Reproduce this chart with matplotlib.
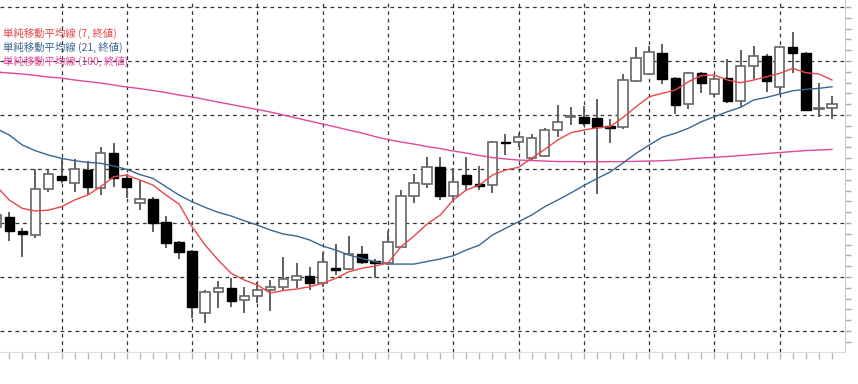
import matplotlib
matplotlib.use("Agg")
import matplotlib.pyplot as plt
import numpy as np

plt.rcParams['font.family'] = ['Noto Sans CJK JP', 'DejaVu Sans']

# daily candles, index -1 is the one cut off at the left edge
opens = [108.963, 109.053, 108.926, 108.886, 109.312, 109.438, 109.373, 109.491, 109.321, 109.645,
         109.414, 109.188, 109.219, 109.012, 108.821, 108.738, 108.164, 108.358, 108.401, 108.287,
         108.327, 108.380, 108.405, 108.472, 108.512, 108.442, 108.586, 108.571, 108.713, 108.651,
         108.627, 108.781, 109.250, 109.361, 109.516, 109.250, 109.444, 109.361, 109.352, 109.753,
         109.753, 109.599, 109.620, 109.861, 109.986, 109.986, 109.969, 109.898, 109.889, 110.315,
         110.380, 110.571, 110.340, 110.102, 110.386, 110.194, 110.340, 110.132, 110.456, 110.549,
         110.256, 110.632, 110.571, 110.053, 110.062]
highs = [109.120, 109.105, 108.951, 109.497, 109.497, 109.605, 109.590, 109.577, 109.706, 109.738,
         109.454, 109.398, 109.238, 109.065, 108.836, 108.750, 108.380, 108.463, 108.494, 108.410,
         108.451, 108.472, 108.682, 108.627, 108.595, 108.734, 108.806, 108.880, 108.787, 108.667,
         108.929, 109.306, 109.454, 109.608, 109.614, 109.506, 109.608, 109.528, 109.759, 109.824,
         109.831, 109.824, 109.877, 110.093, 110.077, 110.088, 110.145, 109.963, 110.380, 110.632,
         110.639, 110.655, 110.355, 110.395, 110.401, 110.361, 110.516, 110.602, 110.639, 110.565,
         110.639, 110.771, 110.586, 110.299, 110.176]
lows = [108.917, 108.836, 108.682, 108.858, 109.290, 109.368, 109.290, 109.259, 109.259, 109.336,
        109.229, 109.120, 108.919, 108.766, 108.669, 108.118, 108.071, 108.210, 108.225, 108.164,
        108.262, 108.185, 108.380, 108.395, 108.380, 108.410, 108.519, 108.565, 108.620, 108.488,
        108.611, 108.775, 109.182, 109.321, 109.213, 109.206, 109.306, 109.306, 109.281, 109.630,
        109.701, 109.583, 109.608, 109.792, 109.907, 109.898, 109.273, 109.745, 109.868, 110.308,
        110.370, 110.287, 110.009, 110.056, 110.204, 110.164, 110.108, 110.077, 110.331, 110.216,
        110.194, 110.386, 110.037, 109.979, 109.960]
closes = [109.074, 108.929, 108.895, 109.312, 109.451, 109.395, 109.497, 109.331, 109.645, 109.414,
          109.331, 109.219, 109.003, 108.812, 108.731, 108.219, 108.358, 108.401, 108.278, 108.327,
          108.382, 108.410, 108.479, 108.512, 108.442, 108.642, 108.565, 108.713, 108.642, 108.632,
          108.827, 109.250, 109.368, 109.516, 109.250, 109.382, 109.361, 109.343, 109.753, 109.744,
          109.794, 109.790, 109.861, 109.931, 109.995, 109.929, 109.886, 109.884, 110.324, 110.525,
          110.581, 110.331, 110.093, 110.386, 110.296, 110.333, 110.132, 110.456, 110.546, 110.318,
          110.632, 110.571, 110.046, 110.065, 110.102]

# moving averages at each candle
sma7 = [109.343, 109.213, 109.136, 109.111, 109.120, 109.151, 109.213, 109.259, 109.336, 109.429,
        109.444, 109.398, 109.352, 109.259, 109.176, 108.966, 108.796, 108.657, 108.534, 108.472,
        108.426, 108.352, 108.375, 108.389, 108.410, 108.442, 108.488, 108.549, 108.581, 108.602,
        108.630, 108.781, 108.880, 108.991, 109.074, 109.213, 109.306, 109.352, 109.444, 109.491,
        109.516, 109.599, 109.682, 109.769, 109.836, 109.861, 109.882, 109.892, 109.977, 110.077,
        110.169, 110.201, 110.231, 110.308, 110.366, 110.370, 110.324, 110.299, 110.324, 110.355,
        110.386, 110.432, 110.392, 110.380, 110.324]
sma21 = [109.875, 109.815, 109.722, 109.669, 109.630, 109.599, 109.577, 109.562, 109.553, 109.528,
         109.497, 109.449, 109.414, 109.336, 109.259, 109.197, 109.145, 109.099, 109.065, 109.021,
         108.981, 108.935, 108.898, 108.880, 108.843, 108.787, 108.750, 108.704, 108.673, 108.642,
         108.620, 108.620, 108.620, 108.644, 108.667, 108.697, 108.750, 108.796, 108.889, 108.951,
         109.012, 109.074, 109.151, 109.213, 109.278, 109.347, 109.412, 109.472, 109.556, 109.645,
         109.722, 109.794, 109.831, 109.877, 109.938, 109.984, 110.031, 110.071, 110.139, 110.164,
         110.194, 110.225, 110.238, 110.247, 110.262]
sma100 = [110.398, 110.389, 110.380, 110.366, 110.352, 110.343, 110.324, 110.310, 110.296, 110.278,
          110.259, 110.245, 110.227, 110.208, 110.185, 110.167, 110.144, 110.120, 110.097, 110.074,
          110.051, 110.028, 110.000, 109.972, 109.944, 109.917, 109.889, 109.861, 109.833, 109.801,
          109.773, 109.750, 109.731, 109.708, 109.690, 109.667, 109.648, 109.625, 109.606, 109.593,
          109.583, 109.579, 109.574, 109.569, 109.569, 109.568, 109.568, 109.568, 109.569, 109.571,
          109.574, 109.577, 109.583, 109.593, 109.602, 109.608, 109.616, 109.625, 109.634, 109.644,
          109.653, 109.662, 109.671, 109.676, 109.682]

labels = ['単純移動平均線 (7, 終値)', '単純移動平均線 (21, 終値)', '単純移動平均線 (100, 終値)']
colors = ['#e8474a', '#3b6691', '#e0489a']

o = np.array(opens)
h = np.array(highs)
l = np.array(lows)
c = np.array(closes)
x = np.arange(-1, len(o) - 1)

fig = plt.figure(figsize=(8.58, 3.84), dpi=100)
ax = fig.add_axes([0, 32 / 384, 845 / 858, 352 / 384])

up = c >= o
ax.vlines(x, l, h, color='#555555', linewidth=1.3, zorder=2)
body = np.maximum(np.abs(c - o), 0.004)
bottom = np.minimum(o, c)
ax.bar(x[up], body[up], bottom=bottom[up], width=0.72, facecolor='white',
       edgecolor='#666666', linewidth=1.2, zorder=3)
ax.bar(x[~up], body[~up], bottom=bottom[~up], width=0.72, facecolor='black',
       edgecolor='black', linewidth=1.0, zorder=3)

ax.plot(x, sma100, color=colors[2], linewidth=1.0, zorder=4)
ax.plot(x, sma21, color=colors[1], linewidth=1.0, zorder=4)
ax.plot(x, sma7, color=colors[0], linewidth=1.0, zorder=4)

ax.set_xlim(-0.71, 64.0)
ax.set_ylim(107.806, 111.065)

ax.set_xticks(np.arange(4, 64, 5))
ax.set_xticks(np.arange(0, 64), minor=True)
ax.set_yticks(np.arange(108.0, 111.01, 0.5))
ax.set_yticks(np.arange(107.9, 111.05, 0.1), minor=True)
ax.grid(True, which='major', color='#333333', linestyle=(0, (3, 3)), linewidth=0.9)

ax.tick_params(axis='x', which='both', direction='out', color='#bbbbbb',
               length=5, width=1, labelbottom=False)
ax.yaxis.tick_right()
ax.tick_params(axis='y', which='both', direction='out', color='#aaaaaa',
               length=4, width=1, labelright=False)

for side in ['left', 'top']:
    ax.spines[side].set_visible(False)
ax.spines['bottom'].set_color('#dddddd')
ax.spines['right'].set_color('#cccccc')

for k, (lab, col) in enumerate(zip(labels, colors)):
    fig.text(3 / 858, 1 - (33 + 14 * k) / 384, lab, color=col, fontsize=7.5,
             va='center', ha='left')

fig.savefig('out.png', dpi=100)
